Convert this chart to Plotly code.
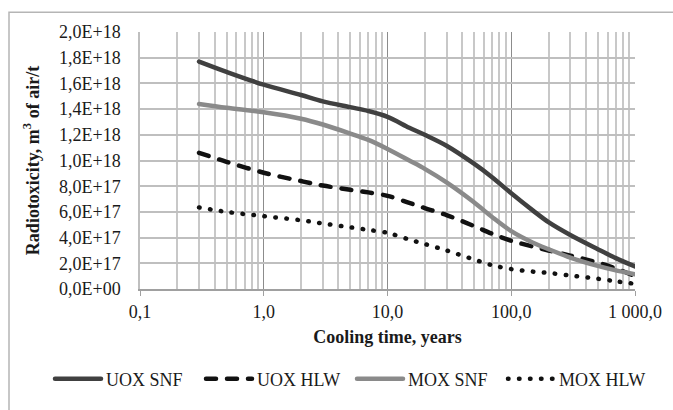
import plotly.graph_objects as go

# ---- data ----
cooling_time = [0.3, 0.5, 1, 2, 3, 5, 7, 10, 15, 20, 30, 50, 70, 100, 150, 200, 300, 500, 700, 1000]

uox_snf = [1.77e18, 1.69e18, 1.59e18, 1.51e18, 1.46e18, 1.415e18, 1.385e18, 1.34e18, 1.255e18, 1.2e18,
           1.115e18, 0.975e18, 0.87e18, 0.745e18, 0.61e18, 0.52e18, 0.42e18, 0.31e18, 0.24e18, 0.175e18]
uox_hlw = [1.06e18, 0.99e18, 0.905e18, 0.84e18, 0.805e18, 0.772e18, 0.752e18, 0.725e18, 0.67e18, 0.63e18,
           0.575e18, 0.49e18, 0.43e18, 0.375e18, 0.33e18, 0.30e18, 0.26e18, 0.205e18, 0.16e18, 0.10e18]
mox_snf = [1.44e18, 1.41e18, 1.375e18, 1.325e18, 1.28e18, 1.21e18, 1.16e18, 1.09e18, 1.0e18, 0.935e18,
           0.83e18, 0.675e18, 0.56e18, 0.45e18, 0.36e18, 0.31e18, 0.245e18, 0.18e18, 0.145e18, 0.115e18]
mox_hlw = [0.635e18, 0.60e18, 0.567e18, 0.535e18, 0.51e18, 0.48e18, 0.46e18, 0.437e18, 0.385e18, 0.35e18,
           0.30e18, 0.23e18, 0.185e18, 0.155e18, 0.135e18, 0.125e18, 0.105e18, 0.08e18, 0.06e18, 0.04e18]

series_names = ["UOX SNF", "UOX HLW", "MOX SNF", "MOX HLW"]

y_tick_vals = [0, 0.2e18, 0.4e18, 0.6e18, 0.8e18, 1.0e18, 1.2e18, 1.4e18, 1.6e18, 1.8e18, 2.0e18]
y_tick_text = ["0,0E+00", "2,0E+17", "4,0E+17", "6,0E+17", "8,0E+17", "1,0E+18",
               "1,2E+18", "1,4E+18", "1,6E+18", "1,8E+18", "2,0E+18"]
x_tick_vals = [0.1, 1, 10, 100, 1000]
x_tick_text = ["0,1", "1,0", "10,0", "100,0", "1 000,0"]
x_minor_vals = [m * d for d in [0.1, 1, 10, 100] for m in range(2, 10)]

# ---- figure ----
fig = go.Figure()
styles = [
    dict(color="#404040", width=4.5, dash="solid"),
    dict(color="#111111", width=4.5, dash="10px,11px"),
    dict(color="#8a8a8a", width=4.5, dash="solid"),
    dict(color="#111111", width=4.5, dash="0.5px,10.5px"),
]
for name, ys, st in zip(series_names, [uox_snf, uox_hlw, mox_snf, mox_hlw], styles):
    fig.add_trace(go.Scatter(x=cooling_time, y=ys, name=name, mode="lines",
                             line=dict(shape="spline", smoothing=0.9, **st)))

font_family = "Liberation Serif"

fig.update_layout(
    width=673, height=410,
    margin=dict(l=140, r=38, t=32, b=118),
    paper_bgcolor="white", plot_bgcolor="white",
    font=dict(family=font_family, size=18, color="#1a1a1a"),
    showlegend=True,
    legend=dict(orientation="h", xref="paper", yref="paper",
                x=(50 - 140) / 495, xanchor="left", y=(292 - 383) / 260, yanchor="middle",
                font=dict(size=18, family=font_family), tracegroupgap=0, itemwidth=46,
                entrywidth=90, entrywidthmode="pixels",
                bgcolor="rgba(0,0,0,0)"),
    xaxis=dict(
        type="log", range=[-1, 3], automargin=False,
        tickmode="array", tickvals=x_tick_vals, ticktext=x_tick_text,
        showgrid=True, gridcolor="#8c8c8c", gridwidth=1,
        minor=dict(tickmode="array", tickvals=x_minor_vals, showgrid=True,
                   gridcolor="#c8c8c8", gridwidth=1.5, ticks=""),
        ticks="outside", ticklen=5, tickcolor="#a0a0a0", tickwidth=1,
        showline=True, linecolor="#a0a0a0", linewidth=2,
        zeroline=False,
        tickfont=dict(size=18, family=font_family),
        title=dict(text="<b>Cooling time, years</b>", font=dict(size=18, family=font_family), standoff=10),
    ),
    yaxis=dict(
        range=[0, 2.0e18], automargin=False,
        tickmode="array", tickvals=y_tick_vals, ticktext=y_tick_text,
        showgrid=True, gridcolor="#bfbfbf", gridwidth=1.5,
        zeroline=False, showline=True, linecolor="#bfbfbf", linewidth=1.5,
        ticks="", ticklabelstandoff=14,
        tickfont=dict(size=18, family=font_family),
        title=dict(text="<b>Radiotoxicity, m<sup>3</sup> of air/t</b>",
                   font=dict(size=18, family=font_family), standoff=15),
    ),
)

# outer chart border (partly cropped at right/bottom in the reference)
fig.add_shape(type="rect", xref="paper", yref="paper",
              x0=(9 - 140) / 495, x1=(700 - 140) / 495,
              y0=(292 - 440) / 260, y1=(292 - 12) / 260,
              line=dict(color="#b5b5b5", width=1.5), fillcolor="rgba(0,0,0,0)", layer="below")

post = """
document.body.style.margin='0';
document.querySelectorAll('.js-line').forEach(function(p){p.style.strokeLinecap='round';});
"""
fig.write_html("out.html", post_script=post, config={"displayModeBar": False})
